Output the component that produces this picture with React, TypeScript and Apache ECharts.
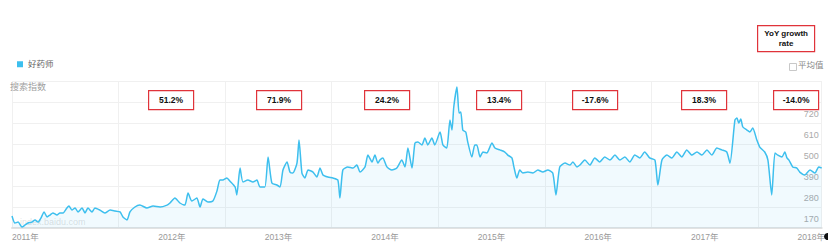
import React, { useEffect, useRef } from "react";
import * as echarts from "echarts";

// Days since the start of the series
const days = [
  0, 10, 21, 34, 45, 55, 68, 79, 89, 99, 110, 120, 130, 140, 154, 164, 175, 188, 195, 205,
  216, 226, 240, 250, 260, 274, 284, 301, 318, 336, 353, 370, 380, 394, 404, 421, 438, 462, 483, 507,
  531, 541, 558, 575, 592, 603, 616, 633, 644, 654, 671, 688, 702, 712, 722, 736, 746, 764, 770, 781,
  791, 808, 825, 839, 849, 866, 877, 890, 907, 918, 928, 942, 952, 962, 976, 983, 993, 1003, 1014, 1031,
  1044, 1055, 1065, 1082, 1099, 1116, 1123, 1133, 1150, 1168, 1181, 1192, 1209, 1219, 1233, 1243, 1253, 1260, 1270, 1284,
  1301, 1318, 1335, 1346, 1356, 1370, 1380, 1390, 1404, 1414, 1424, 1438, 1448, 1466, 1476, 1489, 1500, 1507, 1513, 1524,
  1531, 1537, 1544, 1554, 1561, 1575, 1585, 1592, 1603, 1613, 1626, 1644, 1654, 1671, 1688, 1698, 1712, 1719, 1729, 1739,
  1750, 1767, 1784, 1801, 1818, 1835, 1852, 1863, 1876, 1894, 1911, 1921, 1935, 1945, 1962, 1979, 1996, 2013, 2030, 2048,
  2065, 2082, 2099, 2116, 2133, 2150, 2167, 2184, 2202, 2212, 2226, 2243, 2260, 2277, 2294, 2311, 2328, 2346, 2363, 2380,
  2397, 2414, 2431, 2448, 2459, 2476, 2483, 2489, 2496, 2503, 2517, 2527, 2537, 2551, 2561, 2578, 2589, 2602, 2613, 2623,
  2637, 2647, 2654, 2661, 2674, 2688, 2698, 2715, 2733, 2750, 2763, 2773,
];

// Baidu search index of 好药师
const searchIndex = [
  233, 196, 201, 175, 186, 196, 201, 212, 201, 222, 254, 228, 238, 249, 238, 249, 249, 275, 285, 264,
  275, 254, 275, 249, 275, 254, 275, 264, 249, 264, 259, 254, 228, 212, 254, 280, 290, 275, 285, 280,
  290, 301, 327, 301, 290, 353, 311, 327, 280, 322, 306, 311, 364, 421, 421, 432, 416, 385, 343, 484,
  411, 421, 411, 421, 385, 385, 542, 406, 395, 385, 474, 516, 463, 458, 510, 631, 458, 432, 474, 463,
  437, 484, 448, 437, 432, 421, 327, 474, 490, 484, 500, 463, 490, 552, 516, 552, 510, 526, 537, 490,
  474, 484, 526, 490, 589, 484, 615, 620, 605, 641, 605, 641, 605, 673, 605, 589, 736, 683, 804, 909,
  772, 778, 683, 673, 620, 542, 605, 605, 542, 568, 563, 615, 589, 579, 568, 552, 537, 490, 432, 474,
  458, 463, 458, 474, 463, 474, 458, 343, 490, 510, 500, 516, 490, 500, 526, 500, 537, 516, 542, 526,
  552, 526, 542, 516, 552, 537, 568, 537, 526, 395, 526, 552, 537, 568, 542, 579, 552, 568, 552, 579,
  552, 589, 579, 568, 510, 736, 746, 720, 741, 699, 683, 673, 694, 631, 594, 568, 526, 343, 563, 552,
  542, 568, 537, 526, 490, 484, 463, 448, 474, 458, 490, 484,
];

const yearLabels = ["2011年", "2012年", "2013年", "2014年", "2015年", "2016年", "2017年", "2018年"];
const yoyLabels = ["51.2%", "71.9%", "24.2%", "13.4%", "-17.6%", "18.3%", "-14.0%"];
const yoyBoxLeft = [148, 256, 364, 476, 572, 681, 773];

const FONT = "'Liberation Sans','Noto Sans CJK SC',Arial,sans-serif";

export default function App() {
  const ref = useRef<HTMLDivElement>(null);
  useEffect(() => {
    document.body.style.margin = "0";
    const chart = echarts.init(ref.current!, null, { renderer: "svg" });
    const data = days.map((d, i) => [d, searchIndex[i]]);
    const graphics: any[] = [];
    yoyLabels.forEach((t, i) => {
      graphics.push({
        type: "group",
        left: yoyBoxLeft[i],
        top: 90,
        z: 100,
        children: [
          { type: "rect", z: 100, shape: { x: 0, y: 0, width: 45, height: 19 }, style: { fill: "#fff", stroke: "#e0333a", lineWidth: 1.2 } },
          {
            type: "text",
            z: 101,
            x: 22.5,
            y: 9.5,
            style: { text: t, fill: "#111", font: `bold 8.5px ${FONT}`, textAlign: "center", textVerticalAlign: "middle" },
          },
        ],
      });
    });
    graphics.push({
      type: "group",
      left: 757,
      top: 25,
      z: 100,
      children: [
        { type: "rect", z: 100, shape: { x: 0, y: 0, width: 57, height: 26 }, style: { fill: "#fff", stroke: "#e0333a", lineWidth: 1.2 } },
        {
          type: "text",
          z: 101,
          x: 28.5,
          y: 13,
          style: { text: "YoY growth\nrate", fill: "#111", font: `bold 8px ${FONT}`, lineHeight: 10, textAlign: "center", textVerticalAlign: "middle" },
        },
      ],
    });
    graphics.push(
      { type: "rect", left: 789, top: 63, shape: { x: 0, y: 0, width: 7, height: 7 }, style: { fill: "#fff", stroke: "#c8c8c8", lineWidth: 1 } },
      { type: "text", left: 798, top: 61, style: { text: "平均值", fill: "#888", font: `8.5px ${FONT}` } },
      { type: "text", left: 20, top: 217, style: { text: "index.baidu.com", fill: "rgba(150,150,150,0.3)", font: `9px ${FONT}` } },
      { type: "circle", z: 100, left: 824, top: 233, shape: { cx: 0, cy: 0, r: 3.5 }, style: { fill: "#111" } }
    );

    chart.setOption({
      animation: false,
      backgroundColor: "#fff",
      textStyle: { fontFamily: FONT },
      title: {
        text: "搜索指数",
        left: 10,
        top: 82,
        padding: 0,
        textStyle: { fontSize: 9, color: "#a0a0a0", fontWeight: "normal", fontFamily: FONT },
      },
      legend: {
        left: 12,
        top: 55,
        icon: "rect",
        itemWidth: 6,
        itemHeight: 6,
        itemGap: 4,
        textStyle: { fontSize: 8.5, color: "#666", fontFamily: FONT },
        data: ["好药师"],
      },
      grid: { left: 12, right: 6, top: 81, bottom: 23 },
      xAxis: [
        {
          type: "value",
          min: 0,
          max: 2773,
          interval: 365,
          axisLine: { show: true, lineStyle: { color: "#e2e2e2", width: 2 } },
          axisTick: { show: false },
          axisLabel: { show: false },
          splitLine: { show: true, lineStyle: { color: "#f0f0f0", width: 1 } },
        },
        {
          type: "value",
          position: "bottom",
          min: 0,
          max: 2773,
          interval: 182.5,
          axisLine: { show: false },
          axisTick: { show: false },
          splitLine: { show: false },
          axisLabel: {
            show: true,
            fontSize: 8.5,
            color: "#999",
            margin: 5,
            alignMinLabel: "left",
            showMaxLabel: true,
            hideOverlap: false,
            formatter: (v: number) => {
              if (Math.abs(v) < 1) return yearLabels[0];
              const k = v / 365 - 0.5;
              const r = Math.round(k);
              if (Math.abs(k - r) < 0.01 && r >= 1 && r < yearLabels.length) return yearLabels[r];
              return "";
            },
          },
        },
      ],
      yAxis: {
        type: "value",
        position: "right",
        min: 170,
        max: 940,
        interval: 110,
        axisLine: { show: false },
        axisTick: { show: false },
        axisLabel: {
          inside: true,
          showMaxLabel: false,
          fontSize: 9,
          color: "#aaa",
          margin: 3,
          verticalAlign: "bottom",
          padding: [0, 0, 5, 0],
        },
        splitLine: { show: true, lineStyle: { color: "#f0f0f0", width: 1 } },
      },
      series: [
        {
          name: "好药师",
          type: "line",
          xAxisIndex: 0,
          data,
          showSymbol: false,
          smooth: 0.2,
          itemStyle: { color: "#3dbfee" },
          lineStyle: { color: "#3dbfee", width: 1.5 },
          areaStyle: { color: "rgba(61,191,238,0.1)" },
        },
      ],
      graphic: graphics,
    });
    return () => chart.dispose();
  }, []);
  return <div ref={ref} style={{ position: "absolute", left: 0, top: 0, width: 828, height: 251 }} />;
}
